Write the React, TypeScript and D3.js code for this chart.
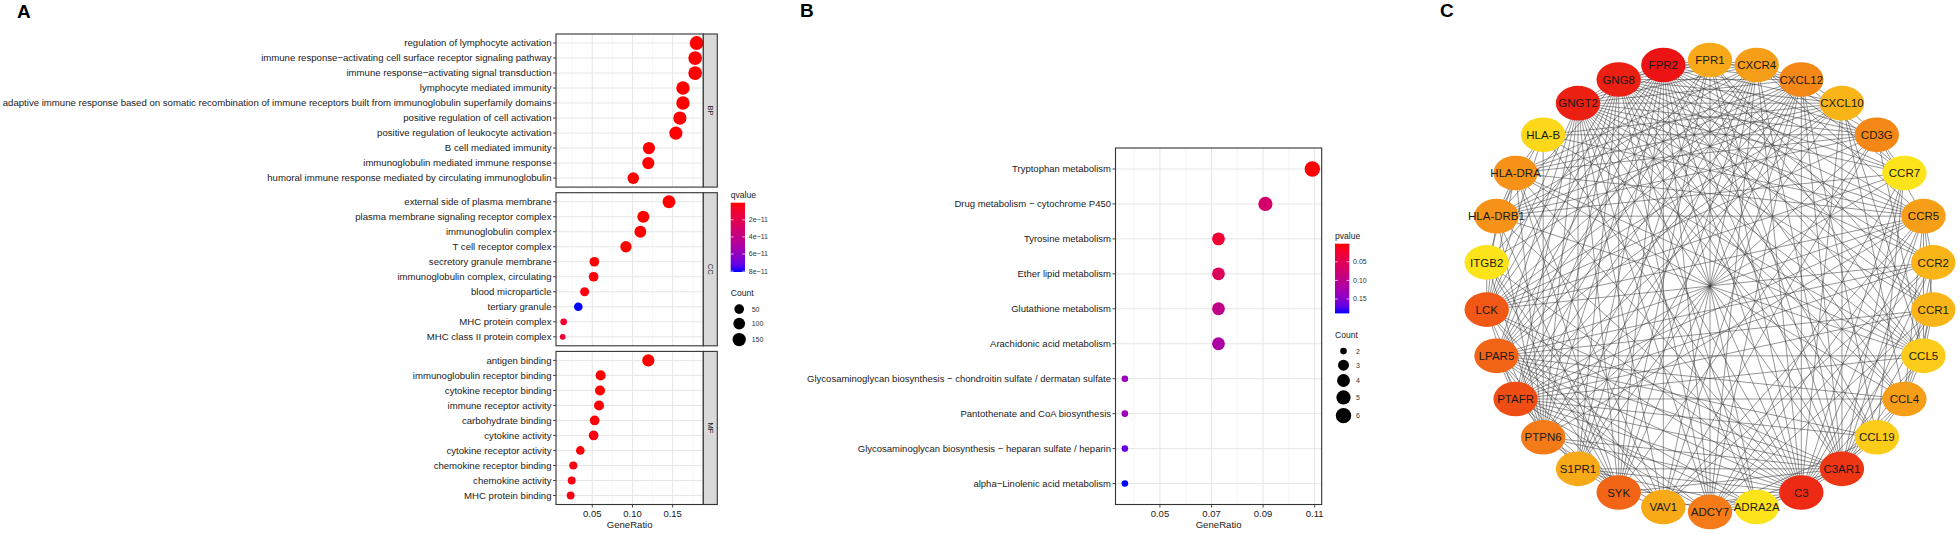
import React from "react";
import * as d3 from "d3";

// ---------------- Panel A data (GO enrichment) ----------------
const FACETS = ["BP", "CC", "MF"];

const BP_TERMS = [
  "regulation of lymphocyte activation",
  "immune response\u2212activating cell surface receptor signaling pathway",
  "immune response\u2212activating signal transduction",
  "lymphocyte mediated immunity",
  "adaptive immune response based on somatic recombination of immune receptors built from immunoglobulin superfamily domains",
  "positive regulation of cell activation",
  "positive regulation of leukocyte activation",
  "B cell mediated immunity",
  "immunoglobulin mediated immune response",
  "humoral immune response mediated by circulating immunoglobulin",
];
const BP_RATIO = [0.1798, 0.178, 0.178, 0.1628, 0.1628, 0.159, 0.154, 0.1205, 0.1197, 0.101];
const BP_COUNT = [169, 167, 167, 153, 153, 149, 145, 113, 112, 95];
const BP_QVALUE = [3e-20, 4e-19, 6e-19, 2e-17, 5e-18, 1e-16, 2e-16, 3e-15, 3e-15, 1e-14];

const CC_TERMS = [
  "external side of plasma membrane",
  "plasma membrane signaling receptor complex",
  "immunoglobulin complex",
  "T cell receptor complex",
  "secretory granule membrane",
  "immunoglobulin complex, circulating",
  "blood microparticle",
  "tertiary granule",
  "MHC protein complex",
  "MHC class II protein complex",
];
const CC_RATIO = [0.1454, 0.1135, 0.1098, 0.0919, 0.0526, 0.0517, 0.0405, 0.0326, 0.0144, 0.0132];
const CC_COUNT = [137, 107, 103, 86, 49, 49, 38, 31, 14, 12];
const CC_QVALUE = [1e-20, 2e-16, 3e-15, 4e-15, 5e-13, 1e-12, 2e-12, 8.1e-11, 9e-12, 1.1e-11];

const MF_TERMS = [
  "antigen binding",
  "immunoglobulin receptor binding",
  "cytokine receptor binding",
  "immune receptor activity",
  "carbohydrate binding",
  "cytokine activity",
  "cytokine receptor activity",
  "chemokine receptor binding",
  "chemokine activity",
  "MHC protein binding",
];
const MF_RATIO = [0.1197, 0.0604, 0.0596, 0.0584, 0.053, 0.0517, 0.0351, 0.0264, 0.0244, 0.0231];
const MF_COUNT = [112, 57, 56, 55, 50, 49, 33, 25, 23, 22];
const MF_QVALUE = [2e-20, 1e-14, 3e-13, 5e-13, 1e-12, 2e-12, 1e-12, 2e-12, 3e-12, 3e-12];

const A_X_TICKS = [0.05, 0.1, 0.15];
const A_Q_TICKS = [2e-11, 4e-11, 6e-11, 8e-11];
const A_Q_TICK_LABELS = ["2e\u221211", "4e\u221211", "6e\u221211", "8e\u221211"];
const A_COUNT_BREAKS = [50, 100, 150];

// ---------------- Panel B data (KEGG enrichment) ----------------
const KEGG_TERMS = [
  "Tryptophan metabolism",
  "Drug metabolism \u2212 cytochrome P450",
  "Tyrosine metabolism",
  "Ether lipid metabolism",
  "Glutathione metabolism",
  "Arachidonic acid metabolism",
  "Glycosaminoglycan biosynthesis \u2212 chondroitin sulfate / dermatan sulfate",
  "Pantothenate and CoA biosynthesis",
  "Glycosaminoglycan biosynthesis \u2212 heparan sulfate / heparin",
  "alpha\u2212Linolenic acid metabolism",
];
const KEGG_RATIO = [0.1091, 0.0909, 0.0727, 0.0727, 0.0727, 0.0727, 0.0364, 0.0364, 0.0364, 0.0364];
const KEGG_COUNT = [6, 5, 4, 4, 4, 4, 2, 2, 2, 2];
const KEGG_PVALUE = [0.0013, 0.071, 0.026, 0.058, 0.095, 0.118, 0.133, 0.133, 0.166, 0.1887];

const B_X_TICKS = [0.05, 0.07, 0.09, 0.11];
const B_P_TICKS = [0.05, 0.1, 0.15];
const B_P_TICK_LABELS = ["0.05", "0.10", "0.15"];
const B_COUNT_BREAKS = [2, 3, 4, 5, 6];

// ---------------- Panel C data (PPI network) ----------------
const NODES = [
  "FPR1", "CXCR4", "CXCL12", "CXCL10", "CD3G", "CCR7", "CCR5", "CCR2", "CCR1", "CCL5",
  "CCL4", "CCL19", "C3AR1", "C3", "ADRA2A", "ADCY7", "VAV1", "SYK", "S1PR1", "PTPN6",
  "PTAFR", "LPAR5", "LCK", "ITGB2", "HLA-DRB1", "HLA-DRA", "HLA-B", "GNGT2", "GNG8", "FPR2",
];
const NODE_DEGREE = [
  13, 14, 16, 12, 16, 8, 14, 12, 12, 10,
  14, 10, 23, 24, 8, 17, 13, 19, 13, 17,
  21, 19, 20, 8, 15, 15, 9, 25, 25, 26,
];
const LINKS: [string, string[]][] = [
  ["GNGT2", ["GNG8", "FPR1", "FPR2", "CXCR4", "CCR1", "CCR2", "CCR5", "CCR7", "C3AR1", "ADRA2A", "S1PR1", "LPAR5", "PTAFR", "CXCL12", "CXCL10", "CCL5", "CCL4", "CCL19", "C3", "ADCY7", "LCK", "SYK", "PTPN6", "CD3G", "VAV1"]],
  ["GNG8", ["FPR1", "FPR2", "CXCR4", "CCR1", "CCR2", "CCR5", "CCR7", "C3AR1", "ADRA2A", "S1PR1", "LPAR5", "PTAFR", "CXCL12", "CXCL10", "CCL5", "CCL4", "CCL19", "C3", "ADCY7", "LCK", "SYK", "PTPN6", "CD3G", "HLA-DRB1"]],
  ["FPR2", ["FPR1", "CXCR4", "CCR1", "CCR2", "CCR5", "CCR7", "C3AR1", "ADRA2A", "S1PR1", "LPAR5", "PTAFR", "CXCL12", "CXCL10", "CCL5", "CCL4", "CCL19", "C3", "ADCY7", "SYK", "LCK", "PTPN6", "ITGB2", "VAV1", "CD3G"]],
  ["C3", ["FPR1", "CXCR4", "CCR1", "CCR2", "CCR5", "CCR7", "C3AR1", "ADRA2A", "S1PR1", "LPAR5", "PTAFR", "CXCL12", "CXCL10", "CCL5", "CCL4", "CCL19", "ADCY7", "ITGB2", "SYK", "LCK", "HLA-DRA", "PTPN6", "VAV1", "HLA-DRB1", "HLA-B"]],
  ["C3AR1", ["FPR1", "CXCR4", "CCR1", "CCR2", "CCR5", "CCR7", "ADRA2A", "S1PR1", "LPAR5", "PTAFR", "CXCL12", "CXCL10", "CCL5", "CCL4", "CCL19", "ADCY7", "SYK", "LCK", "PTPN6"]],
  ["PTAFR", ["FPR1", "CXCR4", "CCR1", "CCR2", "CCR5", "CCR7", "ADRA2A", "S1PR1", "LPAR5", "CXCL12", "CXCL10", "CCL5", "CCL4", "CCL19", "ADCY7", "LCK", "SYK"]],
  ["LPAR5", ["FPR1", "CXCR4", "CCR1", "CCR2", "CCR5", "ADRA2A", "S1PR1", "CXCL12", "CXCL10", "CCL5", "CCL4", "CCL19", "ADCY7", "SYK", "PTPN6"]],
  ["S1PR1", ["ADCY7", "CXCR4", "CXCL12", "CXCL10", "ADRA2A", "FPR1", "SYK"]],
  ["ADCY7", ["ADRA2A", "FPR1", "CXCR4", "CCR1", "CCR2", "CCR5", "CXCL12", "CCR7", "CCL19"]],
  ["FPR1", ["CXCR4", "CCR1", "CXCL12", "CCL5", "SYK"]],
  ["CXCR4", ["CXCL12", "CCR5", "LCK", "CCR7", "VAV1", "SYK", "PTPN6", "CD3G", "HLA-DRB1", "HLA-DRA"]],
  ["CXCL12", ["CCR7", "CCL19", "CXCL10", "ITGB2", "SYK", "LCK", "PTPN6", "VAV1", "HLA-DRB1", "HLA-DRA"]],
  ["CXCL10", ["CCL5", "CCL4", "CD3G", "LCK", "HLA-DRB1", "HLA-DRA", "HLA-B"]],
  ["CCR7", ["CCL19", "LCK", "CD3G", "HLA-DRB1"]],
  ["CCR5", ["CCL5", "CCL4", "CCR2", "CCR1", "CD3G", "LCK", "PTPN6", "VAV1", "HLA-DRB1", "HLA-DRA", "HLA-B"]],
  ["CCR2", ["CCL5", "CCL4", "LCK", "VAV1"]],
  ["CCR1", ["CCL5", "CCL4"]],
  ["CCL4", ["CCL5", "CCL19", "HLA-DRA"]],
  ["CCL5", ["CD3G", "HLA-DRB1", "HLA-DRA", "HLA-B"]],
  ["LCK", ["CD3G", "SYK", "PTPN6", "VAV1", "HLA-DRA", "HLA-DRB1", "HLA-B", "ITGB2"]],
  ["SYK", ["PTPN6", "VAV1", "ITGB2", "CD3G", "HLA-DRA", "HLA-DRB1"]],
  ["PTPN6", ["VAV1", "CD3G", "ITGB2", "HLA-DRA", "HLA-DRB1", "HLA-B"]],
  ["CD3G", ["HLA-B", "HLA-DRA", "HLA-DRB1", "VAV1"]],
  ["VAV1", ["ITGB2", "HLA-DRA"]],
  ["HLA-DRA", ["HLA-DRB1", "HLA-B", "ITGB2"]],
  ["HLA-DRB1", ["HLA-B"]],
];

// ---------------- helpers ----------------
const FONT = "'Liberation Sans', Arial, Helvetica, sans-serif";
const TXT = "#1a1a1a";

function expandDomain(vals: number[]): [number, number] {
  const [lo, hi] = d3.extent(vals) as [number, number];
  const pad = (hi - lo) * 0.05;
  return [lo - pad, hi + pad];
}
function minorTicks(major: number[], dom: [number, number]) {
  const step = major[1] - major[0];
  const out: number[] = [];
  for (let k = -1; k < major.length + 2; k++) {
    const v = major[0] + step * k + step / 2;
    if (v >= dom[0] && v <= dom[1]) out.push(v);
  }
  return out;
}
function sizeScale(counts: number[], rmin: number, rmax: number) {
  const [lo, hi] = d3.extent(counts) as [number, number];
  const lin = d3.scaleLinear().domain([lo, hi]).range([0, 1]).clamp(true);
  return (c: number) => rmin + Math.sqrt(lin(c)) * (rmax - rmin);
}
function colorScale(vals: number[]) {
  const [lo, hi] = d3.extent(vals) as [number, number];
  return d3
    .scaleLinear<string>()
    .domain([lo, hi])
    .range(["#ff0000", "#0000ff"])
    .interpolate(d3.interpolateLab);
}

type FacetProps = {
  terms: string[];
  ratio: number[];
  count: number[];
  colorVals: number[];
  x: d3.ScaleLinear<number, number>;
  top: number;
  bottom: number;
  size: (c: number) => number;
  color: (v: number) => string;
  xTicks: number[];
  xMinor: number[];
  strip?: string;
  stripW?: number;
  labelSize: number;
};

function Facet(p: FacetProps) {
  const [x0, x1] = p.x.range();
  const y = d3.scalePoint<string>().domain(p.terms).range([p.top, p.bottom]).padding(0.6);
  return (
    <g>
      <rect x={x0} y={p.top} width={x1 - x0} height={p.bottom - p.top} fill="#ffffff" />
      {p.xMinor.map((v) => (
        <line key={"mi" + v} x1={p.x(v)} x2={p.x(v)} y1={p.top} y2={p.bottom} stroke="#f0f0f0" strokeWidth={0.6} />
      ))}
      {p.xTicks.map((v) => (
        <line key={"ma" + v} x1={p.x(v)} x2={p.x(v)} y1={p.top} y2={p.bottom} stroke="#e6e6e6" strokeWidth={1} />
      ))}
      {p.terms.map((t) => (
        <line key={"h" + t} x1={x0} x2={x1} y1={y(t)} y2={y(t)} stroke="#e6e6e6" strokeWidth={1} />
      ))}
      {p.terms.map((t, i) => (
        <circle key={"c" + t} cx={p.x(p.ratio[i])} cy={y(t)} r={p.size(p.count[i])} fill={p.color(p.colorVals[i])} />
      ))}
      <rect x={x0} y={p.top} width={x1 - x0} height={p.bottom - p.top} fill="none" stroke="#333333" strokeWidth={1.1} />
      {p.terms.map((t) => (
        <g key={"l" + t}>
          <line x1={x0 - 3} x2={x0} y1={y(t)} y2={y(t)} stroke="#333333" strokeWidth={0.9} />
          <text x={x0 - 4.5} y={y(t)} dy="0.35em" textAnchor="end" fontSize={p.labelSize} fill={TXT} fontFamily={FONT}>
            {t}
          </text>
        </g>
      ))}
      {p.strip && (
        <g>
          <rect x={x1} y={p.top} width={p.stripW} height={p.bottom - p.top} fill="#d9d9d9" stroke="#333333" strokeWidth={1.1} />
          <text
            transform={`translate(${x1 + (p.stripW || 0) / 2},${(p.top + p.bottom) / 2}) rotate(90)`}
            textAnchor="middle"
            dy="0.35em"
            fontSize={7.5}
            fill={TXT}
            fontFamily={FONT}
          >
            {p.strip}
          </text>
        </g>
      )}
    </g>
  );
}

function XAxis({ x, ticks, y, title }: { x: d3.ScaleLinear<number, number>; ticks: number[]; y: number; title: string }) {
  const [x0, x1] = x.range();
  const fmt = d3.format(".2f");
  return (
    <g fontFamily={FONT}>
      {ticks.map((v) => (
        <g key={v}>
          <line x1={x(v)} x2={x(v)} y1={y} y2={y + 3} stroke="#333333" strokeWidth={0.9} />
          <text x={x(v)} y={y + 12.2} textAnchor="middle" fontSize={9.5} fill={TXT}>
            {fmt(v)}
          </text>
        </g>
      ))}
      <text x={(x0 + x1) / 2} y={y + 23} textAnchor="middle" fontSize={9.6} fill={TXT}>
        {title}
      </text>
    </g>
  );
}

function ColorLegend({
  id, title, x, y, w, h, scale, ticks, labels,
}: {
  id: string; title: string; x: number; y: number; w: number; h: number;
  scale: d3.ScaleLinear<string, string>; ticks: number[]; labels: string[];
}) {
  const dom = scale.domain();
  const pos = d3.scaleLinear().domain(dom).range([y, y + h]);
  const stops = d3.range(0, 1.0001, 0.1);
  return (
    <g fontFamily={FONT}>
      <defs>
        <linearGradient id={id} x1="0" y1="0" x2="0" y2="1">
          {stops.map((s) => (
            <stop key={s} offset={s} stopColor={scale(dom[0] + s * (dom[1] - dom[0]))} />
          ))}
        </linearGradient>
      </defs>
      <text x={x} y={y - 5} fontSize={8.6} fill={TXT}>{title}</text>
      <rect x={x} y={y} width={w} height={h} fill={`url(#${id})`} />
      {ticks.map((v, i) => (
        <g key={v}>
          <line x1={x} x2={x + 2.8} y1={pos(v)} y2={pos(v)} stroke="#ffffff" strokeWidth={0.7} />
          <line x1={x + w - 2.8} x2={x + w} y1={pos(v)} y2={pos(v)} stroke="#ffffff" strokeWidth={0.7} />
          <text x={x + w + 3.8} y={pos(v)} dy="0.35em" fontSize={7} fill="#333333">{labels[i]}</text>
        </g>
      ))}
    </g>
  );
}

function SizeLegend({
  title, x, y, breaks, size,
}: { title: string; x: number; y: number; breaks: number[]; size: (c: number) => number }) {
  const keyH = breaks.map((b) => Math.max(13.8, 2 * size(b) + 3.4));
  let acc = y + 6;
  const centers = keyH.map((h) => {
    const c = acc + h / 2;
    acc += h;
    return c;
  });
  return (
    <g fontFamily={FONT}>
      <text x={x} y={y} fontSize={8.6} fill={TXT}>{title}</text>
      {breaks.map((b, i) => (
        <g key={b}>
          <circle cx={x + 8.5} cy={centers[i]} r={size(b)} fill="#000000" />
          <text x={x + 21} y={centers[i]} dy="0.35em" fontSize={7} fill="#333333">{b}</text>
        </g>
      ))}
    </g>
  );
}

export default function App() {
  // ----- Panel A -----
  const aLeft = 556, aRight = 703.3, stripW = 14, aTop = 34, facetH = 153.1, facetGap = 5.6;
  const facetTerms = [BP_TERMS, CC_TERMS, MF_TERMS];
  const facetRatio = [BP_RATIO, CC_RATIO, MF_RATIO];
  const facetCount = [BP_COUNT, CC_COUNT, MF_COUNT];
  const facetQ = [BP_QVALUE, CC_QVALUE, MF_QVALUE];
  const allRatioA = facetRatio.flat();
  const domA = expandDomain(allRatioA);
  const xA = d3.scaleLinear().domain(domA).range([aLeft, aRight]);
  const sizeA = sizeScale(facetCount.flat(), 2.9, 6.9);
  const colA = colorScale(facetQ.flat());
  const minorA = minorTicks(A_X_TICKS, domA);
  const aBottom = aTop + 3 * facetH + 2 * facetGap;

  // ----- Panel B -----
  const bLeft = 1115.5, bRight = 1321.7, bTop = 148, bBottom = aBottom;
  const domB = expandDomain(KEGG_RATIO);
  const xB = d3.scaleLinear().domain(domB).range([bLeft, bRight]);
  const sizeB = sizeScale(KEGG_COUNT, 3.3, 7.7);
  const colB = colorScale(KEGG_PVALUE);
  const minorB = minorTicks(B_X_TICKS, domB);

  // ----- Panel C -----
  const cx = 1710, cy = 286, rx = 224.5, ry = 226;
  const ang = d3.scaleLinear().domain([0, NODES.length]).range([-Math.PI / 2, (3 * Math.PI) / 2]);
  const nodePos = new Map<string, [number, number]>();
  NODES.forEach((n, i) => nodePos.set(n, [cx + rx * Math.cos(ang(i)), cy + ry * Math.sin(ang(i))]));
  const degColor = d3
    .scaleLinear<string>()
    .domain(d3.extent(NODE_DEGREE) as [number, number])
    .range(["#fde31a", "#eb1313"])
    .interpolate(d3.interpolateRgb);
  const seen = new Set<string>();
  const edges: [string, string][] = [];
  LINKS.forEach(([s, ts]) =>
    ts.forEach((t) => {
      const k = [s, t].sort().join("|");
      if (!seen.has(k) && s !== t) {
        seen.add(k);
        edges.push([s, t]);
      }
    })
  );

  return (
    <div style={{ position: "absolute", left: 0, top: 0, background: "#fff" }}>
      <svg width={1960} height={534} viewBox="0 0 1960 534" style={{ display: "block" }}>
        <rect width={1960} height={534} fill="#ffffff" />

        {/* Panel letters */}
        <g fontFamily={FONT} fontWeight="bold" fontSize={19} fill="#000">
          <text x={17} y={18}>A</text>
          <text x={800} y={17}>B</text>
          <text x={1440} y={17}>C</text>
        </g>

        {/* Panel A facets */}
        {FACETS.map((f, i) => {
          const top = aTop + i * (facetH + facetGap);
          return (
            <Facet
              key={f}
              terms={facetTerms[i]}
              ratio={facetRatio[i]}
              count={facetCount[i]}
              colorVals={facetQ[i]}
              x={xA}
              top={top}
              bottom={top + facetH}
              size={sizeA}
              color={colA}
              xTicks={A_X_TICKS}
              xMinor={minorA}
              strip={f}
              stripW={stripW}
              labelSize={9.6}
            />
          );
        })}
        <XAxis x={xA} ticks={A_X_TICKS} y={aBottom} title="GeneRatio" />
        <ColorLegend id="gradA" title="qvalue" x={730.7} y={202.7} w={14.3} h={69.3} scale={colA} ticks={A_Q_TICKS} labels={A_Q_TICK_LABELS} />
        <SizeLegend title="Count" x={730.7} y={296.2} breaks={A_COUNT_BREAKS} size={sizeA} />

        {/* Panel B */}
        <Facet
          terms={KEGG_TERMS}
          ratio={KEGG_RATIO}
          count={KEGG_COUNT}
          colorVals={KEGG_PVALUE}
          x={xB}
          top={bTop}
          bottom={bBottom}
          size={sizeB}
          color={colB}
          xTicks={B_X_TICKS}
          xMinor={minorB}
          labelSize={9.5}
        />
        <XAxis x={xB} ticks={B_X_TICKS} y={bBottom} title="GeneRatio" />
        <ColorLegend id="gradB" title="pvalue" x={1335} y={243.7} w={14.3} h={69.7} scale={colB} ticks={B_P_TICKS} labels={B_P_TICK_LABELS} />
        <SizeLegend title="Count" x={1335} y={338.2} breaks={B_COUNT_BREAKS} size={sizeB} />

        {/* Panel C network */}
        <g>
          {edges.map(([s, t]) => {
            const a = nodePos.get(s)!;
            const b = nodePos.get(t)!;
            return <line key={s + t} x1={a[0]} y1={a[1]} x2={b[0]} y2={b[1]} stroke="#3c3c3c" strokeWidth={0.6} strokeOpacity={0.9} />;
          })}
          {NODES.map((n, i) => {
            const [px, py] = nodePos.get(n)!;
            return (
              <g key={n}>
                <ellipse cx={px} cy={py} rx={22.2} ry={17.3} fill={degColor(NODE_DEGREE[i])} />
                <text x={px} y={py} dy="0.36em" textAnchor="middle" fontSize={11.5} fontFamily={FONT} fill={TXT}>
                  {n}
                </text>
              </g>
            );
          })}
        </g>
      </svg>
    </div>
  );
}
